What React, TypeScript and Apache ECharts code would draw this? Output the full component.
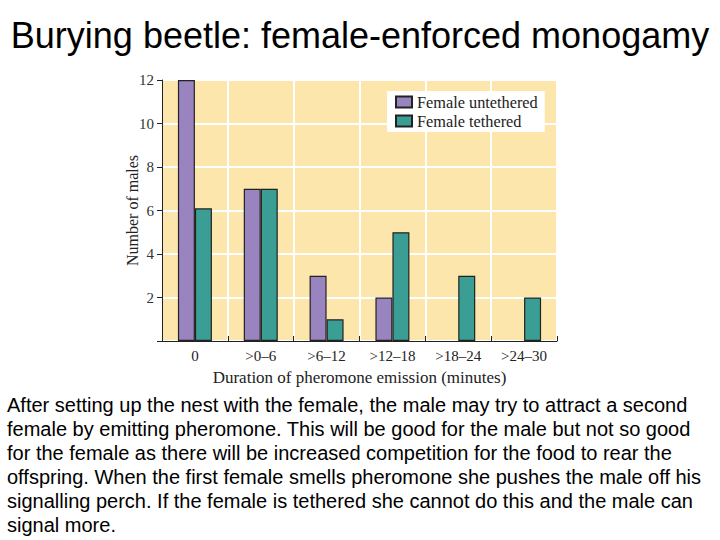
import React, { useEffect, useRef } from "react";
import * as echarts from "echarts";

const categories = ["0", ">0–6", ">6–12", ">12–18", ">18–24", ">24–30"];
const untethered = [12, 7, 3, 2, 0, 0];
const tethered = [6.1, 7, 1, 5, 3, 2];
const seriesNames = ["Female untethered", "Female tethered"];
const titleText = "Burying beetle: female-enforced monogamy";
const paragraphLines = [
  "After setting up the nest with the female, the male may try to attract a second",
  "female by emitting pheromone. This will be good for the male but not so good",
  "for the female as there will be increased competition for the food to rear the",
  "offspring. When the first female smells pheromone she pushes the male off his",
  "signalling perch. If the female is tethered she cannot do this and the male can",
  "signal more.",
];

const SERIF = "'Liberation Serif', 'DejaVu Serif', serif";
const SANS = "'Liberation Sans', Arial, sans-serif";

const toBarData = (arr: number[]) =>
  arr.map((v) => (v === 0 ? { value: v, itemStyle: { borderWidth: 0, opacity: 0 } } : v));

export default function App() {
  const ref = useRef<HTMLDivElement>(null);
  useEffect(() => {
    if (!ref.current) return;
    const chart = echarts.init(ref.current, undefined, { renderer: "svg" });
    chart.setOption({
      animation: false,
      backgroundColor: "#ffffff",
      title: {
        text: titleText,
        left: "center",
        top: 12,
        textStyle: { fontFamily: SANS, fontSize: 36, fontWeight: "normal", color: "#000" },
      },
      legend: {
        data: seriesNames.map((n) => ({ name: n, icon: "rect" })),
        orient: "vertical",
        left: 387,
        top: 91,
        backgroundColor: "#ffffff",
        padding: [3, 7, 3, 8],
        itemGap: 3,
        itemWidth: 16,
        itemHeight: 11,
        textStyle: { fontFamily: SERIF, fontSize: 16.3, color: "#222" },
      },
      grid: {
        left: 162,
        right: 163,
        top: 80,
        bottom: 199,
        show: true,
        backgroundColor: "#fde6ab",
        borderWidth: 0,
      },
      xAxis: {
        type: "category",
        data: categories,
        name: "Duration of pheromone emission (minutes)",
        nameLocation: "middle",
        nameGap: 28,
        nameMoveOverlap: false,
        nameTextStyle: { fontFamily: SERIF, fontSize: 17, color: "#222" },
        axisLine: { lineStyle: { color: "#222", width: 1 } },
        axisTick: { show: true, inside: true, length: 5, lineStyle: { color: "#222" } },
        axisLabel: { fontFamily: SERIF, fontSize: 15, color: "#222", margin: 7 },
        splitLine: { show: true, lineStyle: { color: "#ffffff", width: 2 } },
      },
      yAxis: {
        type: "value",
        min: 0,
        max: 12,
        interval: 2,
        name: "Number of males",
        nameLocation: "middle",
        nameGap: 22,
        nameMoveOverlap: false,
        nameRotate: 90,
        nameTextStyle: { fontFamily: SERIF, fontSize: 16, color: "#222" },
        axisLine: { show: true, lineStyle: { color: "#222", width: 1 } },
        axisTick: { show: true, length: 5, lineStyle: { color: "#222" } },
        axisLabel: {
          fontFamily: SERIF,
          fontSize: 15,
          color: "#333",
          margin: 8,
          formatter: (v: number) => (v === 0 ? "" : String(v)),
        },
        splitLine: { show: true, lineStyle: { color: "#ffffff", width: 2 } },
      },
      series: [
        {
          name: seriesNames[0],
          type: "bar",
          data: toBarData(untethered),
          barWidth: 17,
          barGap: "0%",
          itemStyle: { color: "#9a84bf", borderColor: "#222", borderWidth: 1.2 },
        },
        {
          name: seriesNames[1],
          type: "bar",
          data: toBarData(tethered),
          barWidth: 17,
          barGap: "0%",
          itemStyle: { color: "#3a9e95", borderColor: "#222", borderWidth: 1.2 },
        },
      ],
      graphic: paragraphLines.map((line, i) => ({
        type: "text",
        left: 7,
        top: 395 + i * 24,
        style: { text: line, fontFamily: SANS, fontSize: 20, fill: "#000" },
      })),
    });
    return () => chart.dispose();
  }, []);
  return <div ref={ref} style={{ width: 720, height: 540, position: "absolute", left: 0, top: 0 }} />;
}
